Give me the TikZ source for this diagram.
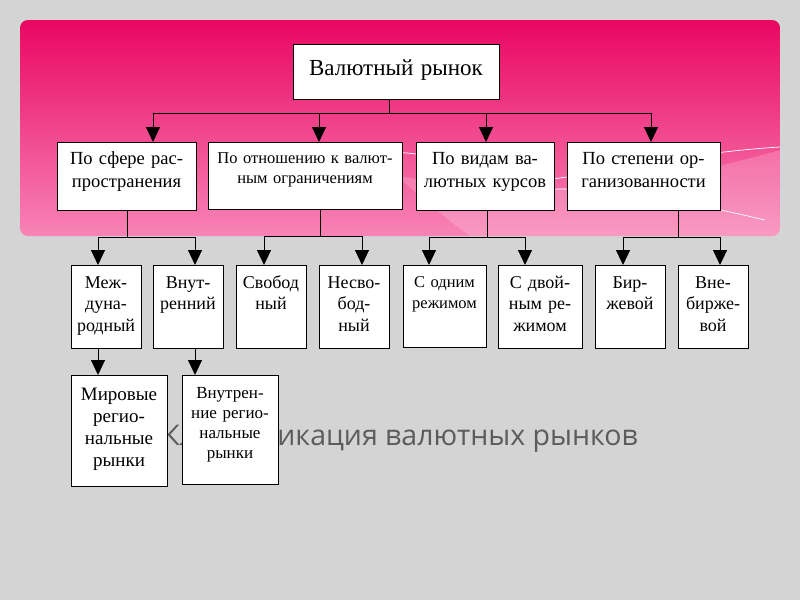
\documentclass[tikz,border=0pt]{standalone}
\usepackage{fontspec}
\setmainfont{Liberation Serif}
\newfontfamily\titlefont{Open Sans}
\usetikzlibrary{arrows.meta}

\definecolor{slidegray}{RGB}{212,212,212}
\definecolor{pinktop}{RGB}{233,6,98}
\definecolor{pinkmid}{RGB}{241,58,138}
\definecolor{pinkbottom}{RGB}{248,132,182}
\definecolor{titlegray}{RGB}{92,92,92}

\tikzset{
  box/.style = {draw=black, fill=white, line width=0.9pt, inner sep=0pt,
    align=center, anchor=north},
  rootbox/.style = {box, text width=206pt, text height=31pt, text depth=24pt,
    font=\fontsize{23}{26}\selectfont},
  catbox/.style = {box, text width=#1, text height=22pt, text depth=46pt,
    font=\fontsize{18.5}{23}\selectfont},
  kindbox/.style = {box, text width=#1, text height=23pt, text depth=60pt,
    font=\fontsize{18}{21.5}\selectfont},
  subbox/.style = {box, text width=96pt, text height=25pt, text depth=86pt,
    font=\fontsize{19}{22}\selectfont},
  link/.style = {draw=black, line width=0.9pt},
  arrow/.style = {link, -{Triangle[length=15pt,width=14pt]}},
  slidetitle/.style = {anchor=base, text=titlegray,
    font=\titlefont\fontsize{28.5}{32}\selectfont}
}

\begin{document}
\begin{tikzpicture}[x=1pt, y=-1pt]
\useasboundingbox (0,0) rectangle (800,600);
\fill[slidegray] (0,0) rectangle (800,600);
\shade[rounded corners=8pt, top color=pinktop, middle color=pinkmid,
  bottom color=pinkbottom] (20,20) rectangle (780,236);
\begin{scope}
  \clip[rounded corners=8pt] (20,20) rectangle (780,236);
  \fill[white, opacity=0.18] (395,175) .. controls (520,200) and (640,190) .. (780,150)
    -- (780,236) -- (470,236) .. controls (440,215) and (420,195) .. (395,175) -- cycle;
  \draw[white, line width=0.7pt] (395,152) .. controls (480,158) and (520,185) .. (560,178)
    .. controls (640,165) and (700,152) .. (780,147);
  \draw[white, line width=0.7pt] (540,190) .. controls (600,185) and (680,200) .. (765,220);
\end{scope}

\node[slidetitle] (title) at (400,445) {Классификация валютных рынков};

\node[rootbox] (root) at (396,44) {Валютный рынок};

\node[catbox=139pt] (k1) at (126.5,142) {По сфере рас-\\пространения};
\node[catbox=194pt, text height=21pt, font=\fontsize{16.5}{20}\selectfont] (k2) at (305,142)
  {По отношению к валют-\\ным ограничениям};
\node[catbox=138pt] (k3) at (485,142) {По видам ва-\\лютных курсов};
\node[catbox=153pt] (k4) at (643.5,142) {По степени ор-\\ганизованности};

\node[kindbox=70pt] (l1) at (106,265) {Меж-\\дуна-\\родный};
\node[kindbox=70pt] (l2) at (188,265) {Внут-\\ренний};
\node[kindbox=70pt] (l3) at (271,265) {Свобод\\ный};
\node[kindbox=70pt] (l4) at (354,265) {Несво-\\бод-\\ный};
\node[kindbox=83pt, text height=22pt, font=\fontsize{16.5}{21}\selectfont] (l5) at (444.5,265)
  {С одним\\режимом};
\node[kindbox=84pt] (l6) at (540,265) {С двой-\\ным ре-\\жимом};
\node[kindbox=70pt] (l7) at (630,265) {Бир-\\жевой};
\node[kindbox=70pt] (l8) at (713,265) {Вне-\\бирже-\\вой};

\node[subbox] (m1) at (119,375) {Мировые\\регио-\\нальные\\рынки};
\node[subbox, text height=23pt, font=\fontsize{17}{20}\selectfont] (m2) at (230,375)
  {Внутрен-\\ние регио-\\нальные\\рынки};

\draw[link] ([xshift=-7pt]root.south) -- ++(0,14) coordinate (bus0);
\foreach \n/\dx in {k1/26.5, k2/14, k3/1, k4/7.5}
  \draw[arrow] (bus0) -| ([xshift=\dx pt]\n.north);

\foreach \p/\pdx/\a/\adx/\b/\bdx in {k1/0.5/l1/-8/l2/7, k2/15/l3/-7/l4/8,
    k3/2/l5/-15.5/l6/-15, k4/34.5/l7/-7/l8/7} {
  \draw[link] ([xshift=\pdx pt]\p.south) -- ++(0,27) coordinate (bus-\p);
  \draw[arrow] (bus-\p) -| ([xshift=\adx pt]\a.north);
  \draw[arrow] (bus-\p) -| ([xshift=\bdx pt]\b.north);
}

\draw[arrow] ([xshift=-8pt]l1.south) -- ([xshift=-21pt]m1.north);
\draw[arrow] ([xshift=7pt]l2.south) -- ([xshift=-35pt]m2.north);
\end{tikzpicture}
\end{document}
